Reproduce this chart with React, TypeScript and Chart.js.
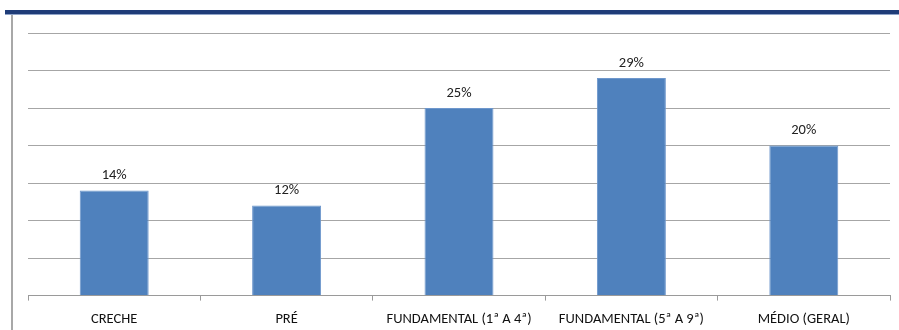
import React, { useEffect, useRef } from "react";
import { Chart, registerables } from "chart.js";

Chart.register(...registerables);

const categories = ["CRECHE", "PRÉ", "FUNDAMENTAL (1ª A 4ª)", "FUNDAMENTAL (5ª A 9ª)", "MÉDIO (GERAL)"];
const values = [14, 12, 25, 29, 20];
const valueLabels = ["14%", "12%", "25%", "29%", "20%"];
const yMax = 35;
const yStep = 5;

const FONT = "Calibri, Carlito, 'Open Sans', 'Liberation Sans', sans-serif";
const FONT_SIZE = 14.5;

const labelPlugin = {
  id: "barLabels",
  afterDatasetsDraw(chart: any) {
    const ctx = chart.ctx;
    const meta = chart.getDatasetMeta(0);
    ctx.save();
    ctx.font = `${FONT_SIZE}px ${FONT}`;
    ctx.fillStyle = "#222";
    ctx.textAlign = "center";
    ctx.textBaseline = "middle";
    meta.data.forEach((bar: any, i: number) => {
      ctx.fillText(valueLabels[i], bar.x, bar.y - 15);
    });
    ctx.restore();
  },
};

export default function App() {
  const ref = useRef<HTMLCanvasElement>(null);
  useEffect(() => {
    document.body.style.margin = "0";
    const chart = new Chart(ref.current!, {
      type: "bar",
      data: {
        labels: categories,
        datasets: [
          {
            data: values,
            backgroundColor: "#4F81BD",
            borderColor: "#6E97CC",
            borderWidth: 1,
            categoryPercentage: 0.4,
            barPercentage: 1,
          },
        ],
      },
      options: {
        animation: false,
        responsive: false,
        maintainAspectRatio: false,
        layout: { padding: { left: 28, right: 9, top: 33, bottom: 2 } },
        plugins: { legend: { display: false }, tooltip: { enabled: false } },
        scales: {
          x: {
            grid: { drawOnChartArea: false, drawTicks: true, tickLength: 5, color: "#9a9a9a" },
            border: { display: true, color: "#9a9a9a", width: 1 },
            ticks: { font: { family: FONT, size: FONT_SIZE }, color: "#111", padding: 10, maxRotation: 0, autoSkip: false },
          },
          y: {
            min: 0,
            max: yMax,
            ticks: { stepSize: yStep, display: false },
            grid: { color: "#a6a6a6", drawTicks: false, lineWidth: 1 },
            border: { display: false },
          },
        },
      },
      plugins: [labelPlugin],
    });
    return () => chart.destroy();
  }, []);
  return (
    <div style={{ position: "relative", width: 899, height: 330, background: "#fff", overflow: "hidden" }}>
      <canvas ref={ref} width={899} height={340} style={{ position: "absolute", left: 0, top: 0 }} />
      <div style={{ position: "absolute", left: 5, top: 10, width: 894, height: 4, background: "#1F3C78" }} />
      <div style={{ position: "absolute", left: 5, top: 14, width: 894, height: 1, background: "#8FA3C8" }} />
      <div style={{ position: "absolute", left: 11, top: 15, width: 2, height: 315, background: "#a8a8a8" }} />
    </div>
  );
}
